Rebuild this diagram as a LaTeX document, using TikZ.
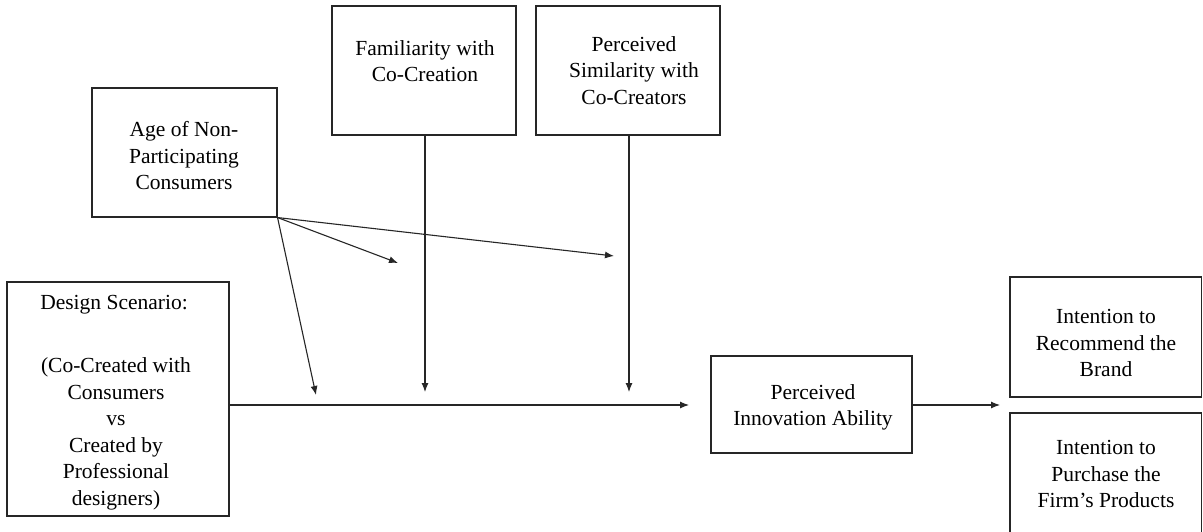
\documentclass[tikz,border=0pt]{standalone}
\usepackage{fontspec}
\setmainfont{Liberation Serif}
\usetikzlibrary{arrows.meta}
\begin{document}
\begin{tikzpicture}[x=1pt,y=-1pt,
  box/.style={draw=black!85, line width=1.1pt, rectangle, inner sep=0pt},
  txt/.style={align=center, inner sep=0pt, font=\fontsize{21.5}{26.5}\selectfont},
  arr/.style={draw=black!85, line width=1.1pt, -{Latex[length=9pt,width=7pt]}},
  ln/.style={draw=black!85, line width=1.1pt}]
\clip (0,0) rectangle (1203,531);
\useasboundingbox (0,0) rectangle (1203,531);
\fill[white] (0,0) rectangle (1203,531);
% boxes
\node[box, minimum width=185pt, minimum height=129pt] (age) at (184.5,152.5) {};
\node[box, minimum width=184pt, minimum height=129pt] (fam) at (424,70.5) {};
\node[box, minimum width=184pt, minimum height=129pt] (sim) at (628,70.5) {};
\node[box, minimum width=222pt, minimum height=234pt] (des) at (118,399) {};
\node[box, minimum width=201pt, minimum height=97pt] (pia) at (811.5,404.5) {};
\node[box, minimum width=191.5pt, minimum height=120pt] (rec) at (1105.75,337) {};
\node[box, minimum width=191.5pt, minimum height=160pt] (pur) at (1105.75,493) {};
% texts
\node[txt] (agetxt) at (184,156) {Age of Non-\\Participating\\Consumers};
\node[txt] (famtxt) at (425,61) {Familiarity with\\Co-Creation};
\node[txt] (simtxt) at (634,70.5) {Perceived\\Similarity with\\Co-Creators};
\node[txt] (destitle) at (114,305) {Design Scenario:};
\node[txt] (destxt) at (116,434) {(Co-Created with\\Consumers\\vs\\Created by\\Professional\\designers)};
\node[txt] (piatxt) at (813,407.5) {Perceived\\Innovation Ability};
\node[txt] (rectxt) at (1106,343) {Intention to\\Recommend the\\Brand};
\node[txt] (purtxt) at (1106,474) {Intention to\\Purchase the\\Firm’s Products};
% connector end points
\coordinate (m0) at (316,395);
\coordinate (m1) at (398,263);
\coordinate (m2) at (614,256);
\coordinate (mf) at (425,392);
\coordinate (ms) at (629,392);
\coordinate (mainend) at (689,405);
\coordinate (outend) at (1000,405);
% connectors
\draw[arr] (des.east |- 0,405) -- (mainend);
\draw[arr] (pia.east |- 0,405) -- (outend);
\draw[arr] (fam.south -| mf) -- (mf);
\draw[arr] (sim.south -| ms) -- (ms);
\draw[arr] (age.south east) -- (m0);
\draw[arr] (age.south east) -- (m1);
\draw[arr] (age.south east) -- (m2);
\end{tikzpicture}
\end{document}
